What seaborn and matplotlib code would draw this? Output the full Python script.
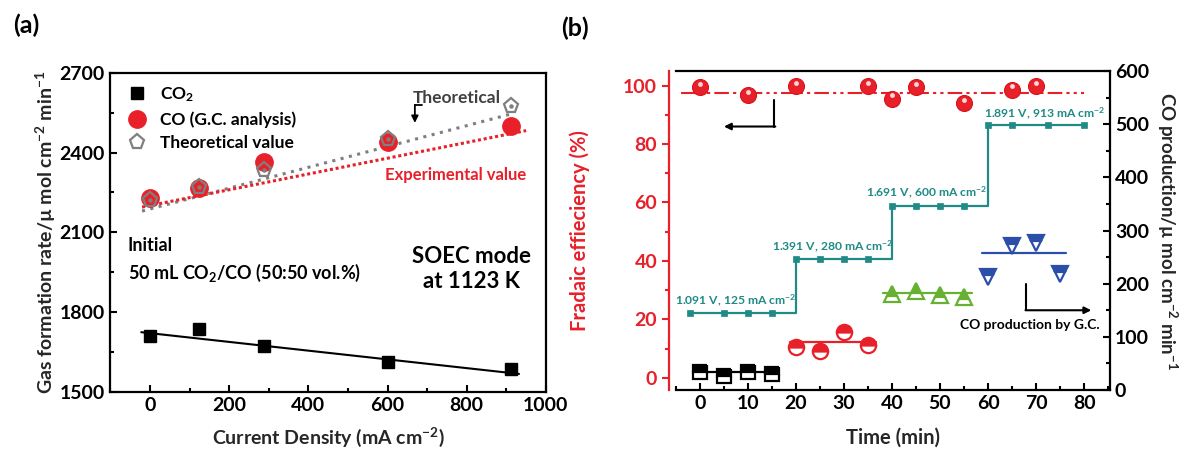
import matplotlib
matplotlib.use("Agg")
import matplotlib.pyplot as plt
import matplotlib.transforms as mtransforms
from matplotlib.ticker import MultipleLocator
import seaborn as sns

# ---------------- panel (a) data ----------------
current_density = [0, 125, 287, 600, 913]
co2_rate = [1711, 1737, 1673, 1611, 1586]
co_rate = [2230, 2266, 2365, 2440, 2500]
theo_rate = [2222, 2270, 2335, 2452, 2575]
co2_fit_x = [-22, 932]
co2_fit_y = [1724, 1567]
theo_fit_x = [-20, 918]
theo_fit_y = [2180, 2548]
exp_fit_x = [-20, 950]
exp_fit_y = [2195, 2483]

# ---------------- panel (b) data ----------------
fe_time = [0, 10, 20, 35, 40, 45, 55, 65, 70]
fe_value = [99.5, 96.7, 99.8, 99.8, 95.5, 99.5, 94.0, 98.6, 99.7]
fe_mean_x = [-4, 80]
fe_mean_y = [97.5, 97.5]

step_time = [-2, 5, 10, 15, 20, 25, 30, 35, 40, 45, 50, 55, 60, 65, 72.5, 80]
step_value = [145, 145, 145, 145, 247, 247, 247, 247,
              347, 347, 347, 347, 499, 499, 499, 499]
step_labels = ["1.091 V, 125 mA cm$^{-2}$", "1.391 V, 280 mA cm$^{-2}$",
               "1.691 V, 600 mA cm$^{-2}$", "1.891 V, 913 mA cm$^{-2}$"]
step_label_x = [7.5, 27.7, 47.2, 71.9]
step_label_y = [170, 270, 372, 521]

gc1_time = [0, 5, 10, 15]
gc1_value = [34.4, 26.3, 33.2, 29.5]
gc1_line_x = [-1.5, 16.5]
gc1_line_y = [34, 34]
gc2_time = [20, 25, 30, 35]
gc2_value = [81.5, 74.0, 109.6, 84.6]
gc2_line_x = [18.7, 36.7]
gc2_line_y = [91, 91]
gc3_time = [40, 45, 50, 55]
gc3_value = [180.4, 186.7, 178.6, 175.4]
gc3_line_x = [38.2, 56.6]
gc3_line_y = [183, 183]
gc4_time = [60, 65, 70, 75]
gc4_value = [213, 270.7, 275.7, 218]
gc4_line_x = [58.7, 76.3]
gc4_line_y = [258, 258]

RED = "#e8202a"
TEAL = "#1f8a86"
GREEN = "#66b032"
BLUE = "#2b4fa8"
GRAY = "#7f7f7f"

sns.set_theme(style="ticks")
plt.rcParams.update({
    "font.family": ["Lato", "DejaVu Sans"],
    "font.weight": "bold",
    "axes.labelweight": "bold",
    "mathtext.fontset": "custom",
    "mathtext.rm": "Lato:bold",
    "mathtext.bf": "Lato:bold",
    "mathtext.it": "Lato:bold:italic",
    "mathtext.default": "rm",
    "axes.linewidth": 1.6,
    "axes.edgecolor": "black",
    "text.color": "black",
    "xtick.color": "black",
    "ytick.color": "black",
})

TICK_FS = 14

fig = plt.figure(figsize=(11.84, 4.57), dpi=100)
axA = fig.add_axes([0.0932, 0.1429, 0.4611 - 0.0932, 0.8403 - 0.1429])
axB = fig.add_axes([0.5709, 0.1466, 0.9375 - 0.5709, 0.8446 - 0.1466])

# ======================= panel (a) =======================
sns.lineplot(x=co2_fit_x, y=co2_fit_y, ax=axA, color="black", lw=1.5, zorder=2)
sns.lineplot(x=theo_fit_x, y=theo_fit_y, ax=axA, color=GRAY, lw=2.2,
             ls=(0, (1.0, 1.8)), zorder=2)
sns.lineplot(x=exp_fit_x, y=exp_fit_y, ax=axA, color=RED, lw=2.2,
             ls=(0, (1.0, 0.9)), zorder=2)

sns.lineplot(x=current_density, y=co2_rate, ax=axA, color="black", ls="none",
             marker="s", ms=9, mec="black", mew=1, label="CO$_2$", zorder=4)
sns.lineplot(x=current_density, y=co_rate, ax=axA, color=RED, ls="none",
             marker="o", ms=12.5, mec=RED, mew=1, label="CO (G.C. analysis)", zorder=4)
sns.lineplot(x=current_density, y=theo_rate, ax=axA, color=GRAY, ls="none",
             marker="p", ms=11, mfc="none", mec=GRAY, mew=1.6,
             label="Theoretical value", zorder=5)
axA.plot(current_density, theo_rate, ls="none", marker="o", ms=2.2,
         color=GRAY, zorder=5)

axA.set_xlim(-100, 1000)
axA.set_ylim(1500, 2700)
axA.xaxis.set_major_locator(MultipleLocator(200))
axA.xaxis.set_minor_locator(MultipleLocator(100))
axA.yaxis.set_major_locator(MultipleLocator(300))
axA.yaxis.set_minor_locator(MultipleLocator(150))
axA.tick_params(which="both", direction="in", width=1.5, labelsize=TICK_FS,
                top=False, right=False, pad=4)
axA.tick_params(which="major", length=5)
axA.tick_params(which="minor", length=3)
axA.set_xlabel("Current Density (mA cm$^{-2}$)", fontsize=14, va="center")
axA.set_ylabel("Gas formation rate/µ mol cm$^{-2}$ min$^{-1}$", fontsize=14,
               va="center")
axA.xaxis.set_label_coords(0.5, -0.142)
axA.yaxis.set_label_coords(-0.147, 0.5)
for sp in axA.spines.values():
    sp.set_visible(True)
    sp.set_linewidth(1.6)

leg = axA.legend(loc="upper left", bbox_to_anchor=(0.0, 1.0), frameon=False,
                 fontsize=12.5, handletextpad=0.45, labelspacing=0.42,
                 borderaxespad=0.3, handlelength=1.7)

axA.text(664, 2605, "Theoretical", color="#404040", fontsize=12.5, ha="left", va="center")
axA.plot([686, 669], [2579, 2579], color="black", lw=1.3)
axA.annotate("", xy=(669, 2512), xytext=(669, 2580),
             arrowprops=dict(arrowstyle="-|>", color="black", lw=1.3,
                             mutation_scale=10, shrinkA=0, shrinkB=0))
axA.text(593, 2316, "Experimental value", color=RED, fontsize=12, ha="left", va="center")
axA.text(-56, 2052, "Initial", fontsize=13, ha="left", va="center")
axA.text(-56, 1946, "50 mL CO$_2$/CO (50:50 vol.%)", fontsize=13, ha="left", va="center")
axA.text(813, 2008, "SOEC mode", fontsize=16, ha="center", va="center")
axA.text(813, 1914, "at 1123 K", fontsize=16, ha="center", va="center")

# ======================= panel (b) =======================
axB2 = axB.twinx()
axB.set_zorder(1)
axB2.set_zorder(2)
axB2.patch.set_visible(False)

# FE (left axis)
sns.lineplot(x=fe_mean_x, y=fe_mean_y, ax=axB, color=RED, lw=1.5,
             ls=(0, (7, 2, 1.5, 2, 1.5, 2)), zorder=2)
sns.lineplot(x=fe_time, y=fe_value, ax=axB, color=RED, ls="none", marker="o",
             ms=11.5, mec="#d8141c", mew=0.8, zorder=4)
hl = axB.transData + mtransforms.ScaledTranslation(0, 2.5 / 72, fig.dpi_scale_trans)
axB.plot(fe_time, fe_value, ls="none", marker="o", ms=3.5, color="#ffd6d6",
         mec="none", transform=hl, zorder=5)
axB.plot([15.5, 15.5], [95.2, 86], color="black", lw=1.5)
axB.annotate("", xy=(5, 86), xytext=(15.7, 86),
             arrowprops=dict(arrowstyle="-|>", color="black", lw=1.5,
                             mutation_scale=10, shrinkA=0, shrinkB=0))

# Step line (right axis)
sns.lineplot(x=step_time, y=step_value, ax=axB2, color=TEAL, lw=1.6,
             drawstyle="steps-post", marker="s", ms=5, mec=TEAL, mew=0.5, zorder=3)
for lab, lx, ly in zip(step_labels, step_label_x, step_label_y):
    axB2.text(lx, ly, lab, color=TEAL, fontsize=8.7, ha="center", va="center")

# G.C. CO production (right axis)
groups = [
    (gc1_time, gc1_value, gc1_line_x, gc1_line_y, "black", "s", 10),
    (gc2_time, gc2_value, gc2_line_x, gc2_line_y, RED, "o", 11),
    (gc3_time, gc3_value, gc3_line_x, gc3_line_y, GREEN, "^", 12),
    (gc4_time, gc4_value, gc4_line_x, gc4_line_y, BLUE, "v", 12),
]
for t, v, lxs, lys, col, mk, ms in groups:
    sns.lineplot(x=lxs, y=lys, ax=axB2, color=col, lw=1.6, zorder=3)
    sns.lineplot(x=t, y=v, ax=axB2, color=col, ls="none", marker=mk, ms=ms,
                 fillstyle="top", markerfacecoloralt="white", mec=col, mew=1.6,
                 zorder=4)

axB2.text(68.8, 122, "CO production by G.C.", fontsize=10, ha="center", va="center")
axB2.plot([68, 68], [200, 150], color="black", lw=1.5)
axB2.annotate("", xy=(81.5, 150), xytext=(67.8, 150),
              arrowprops=dict(arrowstyle="-|>", color="black", lw=1.5,
                              mutation_scale=10, shrinkA=0, shrinkB=0))

# axes styling (b)
axB.set_xlim(-5, 85.4)
axB.set_ylim(-4.2, 105)
axB2.set_ylim(0, 600)
axB.xaxis.set_major_locator(MultipleLocator(10))
axB.xaxis.set_minor_locator(MultipleLocator(5))
axB.yaxis.set_major_locator(MultipleLocator(20))
axB.yaxis.set_minor_locator(MultipleLocator(10))
axB2.yaxis.set_major_locator(MultipleLocator(100))
axB2.yaxis.set_minor_locator(MultipleLocator(50))

axB.spines["left"].set_position(("outward", 5))
axB.spines["left"].set_color(RED)
axB.spines["left"].set_linewidth(1.6)
axB.spines["right"].set_visible(False)
axB.spines["top"].set_linewidth(1.6)
axB.spines["bottom"].set_linewidth(1.6)
axB2.spines["left"].set_visible(False)
axB2.spines["bottom"].set_visible(False)
axB2.spines["top"].set_visible(False)
axB2.spines["right"].set_linewidth(1.6)

axB.tick_params(axis="y", which="both", direction="out", colors=RED, width=1.5,
                labelsize=TICK_FS, right=False)
axB.tick_params(axis="y", which="major", length=5)
axB.tick_params(axis="y", which="minor", length=3)
axB.tick_params(axis="x", which="both", direction="in", width=1.5, labelsize=TICK_FS,
                top=False)
axB.tick_params(axis="x", which="major", length=5)
axB.tick_params(axis="x", which="minor", length=3)
axB2.tick_params(axis="y", which="both", direction="in", width=1.5, labelsize=TICK_FS)
axB2.tick_params(axis="y", which="major", length=5)
axB2.tick_params(axis="y", which="minor", length=3)

axB.set_xlabel("Time (min)", fontsize=14.5, va="center")
axB.set_ylabel("Fradaic effieciency (%)", fontsize=14.5, color=RED, va="center")
axB2.set_ylabel("CO production/µ mol cm$^{-2}$ min$^{-1}$", fontsize=13.5,
                rotation=270, va="center")
axB.xaxis.set_label_coords(0.5, -0.15)
axB.yaxis.set_label_coords(-0.222, 0.5)
axB2.yaxis.set_label_coords(1.132, 0.5)

fig.text(0.022, 0.945, "(a)", fontsize=18, ha="center", va="center")
fig.text(0.486, 0.939, "(b)", fontsize=18, ha="center", va="center")

fig.savefig("out.png", dpi=100)
